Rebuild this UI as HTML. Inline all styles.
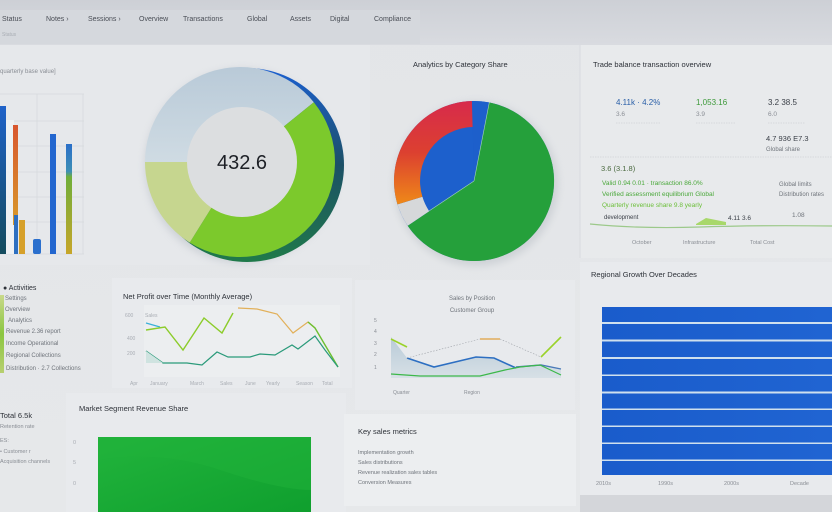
<!DOCTYPE html>
<html><head><meta charset="utf-8"><style>
html,body{margin:0;padding:0;background:#e4e6e9;}
svg{display:block;font-family:"Liberation Sans",sans-serif;}
</style></head><body>
<svg width="832" height="512" viewBox="0 0 832 512" xmlns="http://www.w3.org/2000/svg">
<defs>
<linearGradient id="nav" x1="0" y1="0" x2="0" y2="1"><stop offset="0" stop-color="#cdd0d6"/><stop offset="1" stop-color="#d9dbe0"/></linearGradient>
<linearGradient id="bg" x1="0" y1="0" x2="0" y2="1"><stop offset="0" stop-color="#e3e5e8"/><stop offset="1" stop-color="#e6e8ea"/></linearGradient>
<linearGradient id="rim" x1="0" y1="0" x2="0" y2="1"><stop offset="0" stop-color="#1b5fd0"/><stop offset="0.5" stop-color="#1c5066"/><stop offset="1" stop-color="#1f7a4a"/></linearGradient>
<linearGradient id="gblue" x1="0" y1="0" x2="0" y2="1"><stop offset="0" stop-color="#b9cad8"/><stop offset="1" stop-color="#cfdbe3"/></linearGradient>
<linearGradient id="red" gradientUnits="userSpaceOnUse" x1="0" y1="100" x2="0" y2="205"><stop offset="0" stop-color="#d72a4c"/><stop offset="0.5" stop-color="#dc4030"/><stop offset="1" stop-color="#ef8a18"/></linearGradient>
<linearGradient id="bar1" x1="0" y1="0" x2="0" y2="1"><stop offset="0" stop-color="#1f62c9"/><stop offset="1" stop-color="#144c5e"/></linearGradient>
<linearGradient id="bar5" x1="0" y1="0" x2="0" y2="1"><stop offset="0" stop-color="#2a6fc9"/><stop offset="0.25" stop-color="#3d8fb5"/><stop offset="0.3" stop-color="#6fae3a"/><stop offset="1" stop-color="#c7a62a"/></linearGradient>
<linearGradient id="orb" x1="0" y1="0" x2="0" y2="1"><stop offset="0" stop-color="#d8562f"/><stop offset="1" stop-color="#d89a2a"/></linearGradient>
<linearGradient id="grn" x1="0" y1="0" x2="1" y2="1"><stop offset="0" stop-color="#22b43c"/><stop offset="1" stop-color="#0f9f2e"/></linearGradient>
<linearGradient id="blu" x1="0" y1="0" x2="1" y2="0"><stop offset="0" stop-color="#1a5ccb"/><stop offset="1" stop-color="#2064d2"/></linearGradient>
<linearGradient id="leftbar" x1="0" y1="0" x2="0" y2="1"><stop offset="0" stop-color="#c9d98a"/><stop offset="0.5" stop-color="#8bc640"/><stop offset="1" stop-color="#b7cf70"/></linearGradient>
<linearGradient id="area" x1="0" y1="0" x2="0" y2="1"><stop offset="0" stop-color="#b9cbd8"/><stop offset="1" stop-color="#d7e0e6"/></linearGradient>
<filter id="sh" x="-20%" y="-20%" width="140%" height="140%"><feGaussianBlur stdDeviation="4"/></filter>
</defs>

<rect x="0" y="0" width="832" height="512" fill="url(#bg)"/>
<!-- nav -->
<rect x="0" y="0" width="832" height="45" fill="url(#nav)"/>
<rect x="0" y="10" width="420" height="34" fill="#d5d8dd"/>
<g font-size="7" fill="#4a4e56">
<text x="2" y="21">Status</text>
<text x="46" y="21">Notes  ›</text>
<text x="88" y="21">Sessions ›</text>
<text x="139" y="21">Overview</text>
<text x="183" y="21">Transactions</text>
<text x="247" y="21">Global</text>
<text x="290" y="21">Assets</text>
<text x="330" y="21">Digital</text>
<text x="374" y="21">Compliance</text>
</g>
<text x="2" y="36" font-size="5" fill="#a9adb4">Status</text>

<!-- top panels -->
<rect x="0" y="45" width="370" height="220" fill="#e6e8eb"/>
<rect x="580" y="45" width="252" height="213" fill="#e8eaec"/>
<line x1="580" y1="45" x2="580" y2="258" stroke="#d9dbdf"/>

<!-- left bar chart -->
<text x="0" y="73" font-size="6" fill="#8a8e95">quarterly base value]</text>
<g stroke="#d6d9dd" stroke-width="0.7">
<line x1="0" y1="94" x2="84" y2="94"/><line x1="0" y1="121" x2="84" y2="121"/>
<line x1="0" y1="146" x2="84" y2="146"/><line x1="0" y1="172" x2="84" y2="172"/>
<line x1="0" y1="197" x2="84" y2="197"/><line x1="0" y1="222" x2="84" y2="222"/>
<line x1="0" y1="254" x2="84" y2="254"/>
<line x1="37" y1="94" x2="37" y2="254"/><line x1="83" y1="94" x2="83" y2="254"/>
</g>
<rect x="6" y="120" width="8" height="134" fill="#f0f2f6" opacity="0.8"/>
<rect x="0" y="106" width="6" height="148" fill="url(#bar1)"/>
<rect x="13" y="125" width="5" height="100" fill="url(#orb)"/>
<rect x="14" y="215" width="4" height="39" fill="#2d6fc0"/>
<rect x="19" y="220" width="6" height="34" fill="#d6a02a"/>
<rect x="33" y="239" width="8" height="15" rx="2" fill="#2a6fcd"/>
<rect x="50" y="134" width="6" height="120" fill="#2366cf"/>
<rect x="66" y="144" width="6" height="110" fill="url(#bar5)"/>

<!-- donut -->
<circle cx="242" cy="166" r="97" fill="#9ea7b0" opacity="0.35" filter="url(#sh)"/>
<circle cx="247" cy="165" r="97" fill="url(#rim)"/>
<path d="M240,162 L145,162 A95,95 0 0 1 313.8,102.2 Z" fill="url(#gblue)"/>
<path d="M240,162 L313.8,102.2 A95,95 0 0 1 189.7,242.6 Z" fill="#7cc92c"/>
<path d="M240,162 L189.7,242.6 A95,95 0 0 1 145,162 Z" fill="#c6d68f"/>
<circle cx="242" cy="162" r="55" fill="#dcdee0"/>
<text x="242" y="169" font-size="20" text-anchor="middle" fill="#1d2026">432.6</text>

<!-- pie -->
<text x="413" y="67" font-size="7.5" fill="#2d3138">Analytics by Category Share</text>
<circle cx="476" cy="184" r="82" fill="#9aa2ab" opacity="0.3" filter="url(#sh)"/>
<circle cx="474" cy="181" r="80" fill="#1d5fcb"/>
<path d="M474,181 L489.3,102.5 A80,80 0 1 1 407.7,225.7 Z" fill="#25a03b"/>
<path d="M474,181 L471.9,101 A80,80 0 0 1 489.3,102.5 Z" fill="#1d5fcb"/>
<path d="M474,181 L429.2,211.2 A54,54 0 0 1 472.6,127 Z" fill="#1d60cc"/>
<path d="M407.7,225.7 A80,80 0 0 1 397.5,204.4 L422.4,196.8 A54,54 0 0 0 429.2,211.2 Z" fill="#d6d8da"/>
<path d="M397.5,204.4 A80,80 0 0 1 471.9,101 L472.6,127 A54,54 0 0 0 422.4,196.8 Z" fill="url(#red)"/>
<line x1="474" y1="181" x2="489.3" y2="102.5" stroke="#a8d7b5" stroke-width="0.6"/>
<line x1="474" y1="181" x2="429" y2="211" stroke="#a8d7b5" stroke-width="0.6"/>

<!-- right top panel -->
<text x="593" y="67" font-size="7.5" fill="#2d3138">Trade balance transaction overview</text>
<text x="616" y="105" font-size="8" fill="#2a5fa8">4.11k · 4.2%</text>
<text x="696" y="105" font-size="8" fill="#3d9a3a">1,053.16</text>
<text x="768" y="105" font-size="8" fill="#3b4048">3.2 38.5</text>
<text x="616" y="116" font-size="6.5" fill="#8a8e95">3.6</text>
<text x="696" y="116" font-size="6.5" fill="#8a8e95">3.9</text>
<text x="768" y="116" font-size="6.5" fill="#8a8e95">6.0</text>
<g stroke="#c3c6cb" stroke-width="0.6" stroke-dasharray="1.5,1">
<line x1="616" y1="123" x2="660" y2="123"/><line x1="696" y1="123" x2="735" y2="123"/><line x1="768" y1="123" x2="805" y2="123"/>
<line x1="590" y1="157" x2="832" y2="157"/>
</g>
<text x="766" y="141" font-size="7.5" fill="#3b4048">4.7 936 E7.3</text>
<text x="766" y="151" font-size="6" fill="#6f747b">Global share</text>
<text x="601" y="171" font-size="7.5" fill="#4b6a40">3.6 (3.1.8)</text>
<text x="602" y="185" font-size="6.5" fill="#4aa83a">Valid 0.94 0.01 · transaction 86.0%</text>
<text x="602" y="196" font-size="6.5" fill="#4aa83a">Verified assessment equilibrium Global</text>
<text x="602" y="207" font-size="6.5" fill="#6cbf3a">Quarterly revenue share 9.8 yearly</text>
<text x="779" y="186" font-size="6" fill="#6f747b">Global limits</text>
<text x="779" y="196" font-size="6" fill="#6f747b">Distribution rates</text>
<text x="604" y="219" font-size="6" fill="#3b4048">development</text>
<path d="M696,224 L706,218 L726,222 L726,225 L696,225 Z" fill="#a8d86a"/>
<text x="728" y="220" font-size="6.5" fill="#3b4048">4.11 3.6</text>
<text x="792" y="217" font-size="6.5" fill="#6f747b">1.08</text>
<path d="M590,224 Q640,229 700,227 T832,226" fill="none" stroke="#9cc98a" stroke-width="1.2"/>
<g font-size="5.5" fill="#8a8e95">
<text x="632" y="244">October</text><text x="683" y="244">Infrastructure</text><text x="750" y="244">Total Cost</text>
</g>

<!-- middle left list -->
<rect x="0" y="295" width="4" height="78" fill="url(#leftbar)"/>
<text x="3" y="290" font-size="7" fill="#2d3138">● Activities</text>
<g font-size="6" fill="#6f747b">
<text x="5" y="300">Settings</text>
<text x="5" y="311">Overview</text>
<text x="8" y="322">Analytics</text>
<text x="6" y="333">Revenue 2.36 report</text>
<text x="6" y="345">Income          Operational</text>
<text x="6" y="357">Regional Collections</text>
<text x="6" y="370">Distribution · 2.7 Collections</text>
</g>

<!-- line chart -->
<rect x="112" y="278" width="240" height="110" fill="#e8eaed"/>
<text x="123" y="299" font-size="7.5" fill="#2d3138">Net Profit over Time (Monthly Average)</text>
<rect x="144" y="305" width="196" height="72" fill="#eceef0"/>
<g font-size="5" fill="#a9adb4">
<text x="125" y="317">600</text><text x="127" y="340">400</text><text x="127" y="355">200</text>
<text x="145" y="317">Sales</text>
<text x="130" y="385">Apr</text><text x="150" y="385">January</text><text x="190" y="385">March</text><text x="220" y="385">Sales</text>
<text x="245" y="385">June</text><text x="266" y="385">Yearly</text><text x="296" y="385">Season</text><text x="322" y="385">Total</text>
</g>
<path d="M146,323 L160,327" stroke="#3ab0d8" stroke-width="1.2" fill="none"/>
<path d="M146,330 L165,327 L183,350 L204,318 L222,333 L233,313" stroke="#8ccc2a" stroke-width="1.4" fill="none"/>
<path d="M238,308 L257,309 L277,314 L293,333 L308,322 L315,328" stroke="#e2b05a" stroke-width="1.2" fill="none"/>
<path d="M308,322 L315,328 L338,367" stroke="#6cc030" stroke-width="1.4" fill="none"/>
<path d="M146,351 L163,363 L187,363 L202,365 L217,352 L228,357 L250,357 L260,354 L275,355 L292,345 L298,349 L315,336 L325,350 L338,367" stroke="#2a9a7a" stroke-width="1.2" fill="none"/>
<path d="M146,351 L163,363 L146,363 Z" fill="#cfe3e0"/>

<!-- middle chart 2 -->
<rect x="355" y="280" width="220" height="130" fill="#e8eaed"/>
<text x="472" y="300" font-size="6" text-anchor="middle" fill="#6f747b">Sales by Position</text>
<text x="472" y="312" font-size="6" text-anchor="middle" fill="#6f747b">Customer Group</text>
<g font-size="5" fill="#8a8e95">
<text x="374" y="322">5</text><text x="374" y="333">4</text><text x="374" y="345">3</text><text x="374" y="356">2</text><text x="374" y="369">1</text>
<text x="393" y="394">Quarter</text><text x="464" y="394">Region</text>
</g>
<path d="M391,337 L407,358 L434,367 L476,357 L494,358 L516,368 L541,366 L561,369 L561,378 L391,378 Z" fill="url(#area)"/>
<path d="M407,358 L434,367 L476,357 L494,358 L516,368" stroke="#2d6fc2" stroke-width="1.6" fill="none"/>
<path d="M516,367 L541,365 L561,369" stroke="#4a7ab8" stroke-width="1.4" fill="none"/>
<path d="M391,339 L407,347" stroke="#9ad22a" stroke-width="1.6" fill="none"/>
<path d="M407,358 L480,339 M500,339 L541,357" stroke="#a0a4aa" stroke-width="0.6" stroke-dasharray="1.5,1.5" fill="none"/>
<path d="M480,339 L500,339" stroke="#e0a040" stroke-width="1.2" fill="none"/>
<path d="M541,357 L561,337" stroke="#9ad22a" stroke-width="1.6" fill="none"/>
<path d="M391,374 L420,376 L480,376 L505,370 L520,367 L540,365 L561,375" stroke="#3cb84a" stroke-width="1.2" fill="none"/>

<!-- bottom left -->
<text x="0" y="418" font-size="7.5" fill="#2d3138">Total 6.5k</text>
<g font-size="5.5" fill="#8a8e95">
<text x="0" y="428">Retention rate</text>
<text x="0" y="442">ES:</text>
<text x="0" y="453">• Customer r</text>
<text x="0" y="463">Acquisition channels</text>
</g>
<rect x="66" y="393" width="280" height="119" fill="#e8eaed"/>
<text x="79" y="411" font-size="7.5" fill="#2d3138">Market Segment Revenue Share</text>
<g font-size="5.5" fill="#a9adb4"><text x="73" y="444">0</text><text x="73" y="464">5</text><text x="73" y="485">0</text></g>
<rect x="98" y="437" width="213" height="75" fill="url(#grn)"/>
<path d="M98,460 Q160,450 220,470 T311,490 L311,437 L98,437 Z" fill="#1fb23a" opacity="0.5"/>

<!-- bottom middle -->
<rect x="344" y="414" width="232" height="92" fill="#eceef0"/>
<text x="358" y="434" font-size="7.5" fill="#2d3138">Key sales metrics</text>
<g font-size="5.5" fill="#6f747b">
<text x="358" y="454">Implementation growth</text>
<text x="358" y="464">Sales distributions</text>
<text x="358" y="474">Revenue realization sales tables</text>
<text x="358" y="484">Conversion Measures</text>
</g>

<!-- right bottom -->
<rect x="580" y="262" width="252" height="233" fill="#e8eaed"/>
<rect x="580" y="495" width="252" height="17" fill="#d4d6da"/>
<text x="591" y="277" font-size="7.5" fill="#2d3138">Regional Growth Over Decades</text>
<rect x="602" y="307" width="230" height="168" fill="#cfe0ee"/>
<g fill="url(#blu)">
<rect x="602" y="307" width="230" height="15"/>
<rect x="602" y="324" width="230" height="15.5"/>
<rect x="602" y="341.5" width="230" height="15.5"/>
<rect x="602" y="359" width="230" height="15.5"/>
<rect x="602" y="376" width="230" height="15.5"/>
<rect x="602" y="393.5" width="230" height="15"/>
<rect x="602" y="410" width="230" height="15.5"/>
<rect x="602" y="427" width="230" height="15.5"/>
<rect x="602" y="444" width="230" height="15.5"/>
<rect x="602" y="461" width="230" height="14"/>
</g>
<g font-size="5.5" fill="#8a8e95">
<text x="596" y="485">2010s</text><text x="658" y="485">1990s</text><text x="724" y="485">2000s</text><text x="790" y="485">Decade</text>
</g>
</svg>
</body></html>
